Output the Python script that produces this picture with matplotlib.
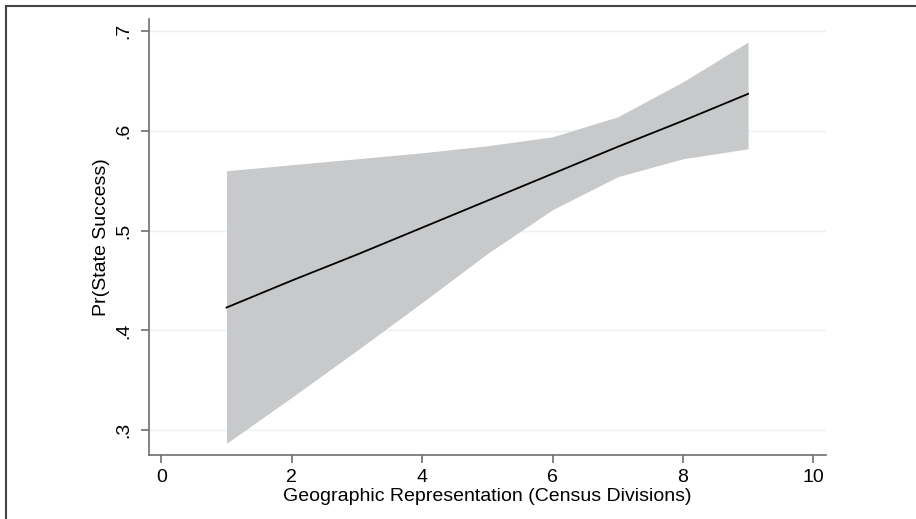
import numpy as np
import matplotlib
matplotlib.use("Agg")
import matplotlib.pyplot as plt
from matplotlib.lines import Line2D

# predicted probability with 95% CI, by number of census divisions
divisions = [1, 2, 3, 4, 5, 6, 7, 8, 9]
pr_success = [0.423, 0.450, 0.476, 0.503, 0.530, 0.557, 0.584, 0.610, 0.637]
ci_upper = [0.560, 0.566, 0.572, 0.578, 0.585, 0.594, 0.614, 0.649, 0.689]
ci_lower = [0.287, 0.333, 0.380, 0.428, 0.477, 0.521, 0.554, 0.572, 0.582]

x_ticks = [0, 2, 4, 6, 8, 10]
y_ticks = [0.3, 0.4, 0.5, 0.6, 0.7]
y_ticklabels = [".3", ".4", ".5", ".6", ".7"]

plt.rcParams['font.family'] = ['Liberation Sans', 'DejaVu Sans']

fig = plt.figure(figsize=(9.16, 5.19), dpi=100)
ax = fig.add_axes([149 / 916, 1 - 454.7 / 519, (826 - 149) / 916, (454.7 - 19) / 519])

ax.fill_between(divisions, ci_lower, ci_upper, color='#c8c9cb', linewidth=0, zorder=2)
ax.plot(divisions, pr_success, color='black', linewidth=1.3, zorder=3)

ax.set_xlim(-0.189, 10.195)
ax.set_ylim(0.2756, 0.712)
ax.set_xticks(x_ticks)
ax.set_yticks(y_ticks)
ax.set_yticklabels(y_ticklabels, rotation=90, va='center')

ax.grid(axis='y', color='#eaf2f3', linewidth=1, zorder=1)
ax.grid(axis='x', visible=False)

for side in ['top', 'right']:
    ax.spines[side].set_visible(False)
for side in ['left', 'bottom']:
    ax.spines[side].set_color('#6e6e6e')
    ax.spines[side].set_linewidth(1.2)

ax.tick_params(axis='both', colors='#6e6e6e', labelcolor='black', labelsize=14,
               length=6, width=1.2)
ax.tick_params(axis='y', pad=6)
ax.tick_params(axis='x', pad=4)

ax.set_xlabel('Geographic Representation (Census Divisions)', fontsize=14, labelpad=2)
ax.set_ylabel('Pr(State Success)', fontsize=14, labelpad=4)

# outer frame, left and top edges only visible in the crop
fig.add_artist(Line2D([6 / 916, 6 / 916], [0, 1 - 6 / 519], transform=fig.transFigure,
                      color='#444444', linewidth=1.5))
fig.add_artist(Line2D([6 / 916, 1], [1 - 6 / 519, 1 - 6 / 519], transform=fig.transFigure,
                      color='#444444', linewidth=1.5))

fig.savefig('out.png', dpi=100)
